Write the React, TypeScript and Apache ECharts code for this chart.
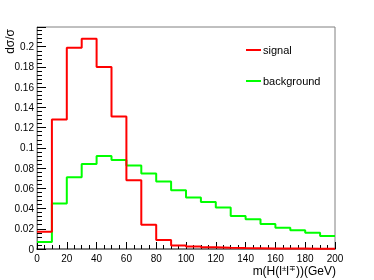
import React, { useEffect, useRef } from "react";
import * as echarts from "echarts";

const binEdges = [0, 10, 20, 30, 40, 50, 60, 70, 80, 90, 100, 110, 120, 130, 140, 150, 160, 170, 180, 190, 200];
const signal = [0.017, 0.128, 0.199, 0.208, 0.180, 0.131, 0.068, 0.024, 0.009, 0.0035, 0.0025, 0.0018, 0.0013, 0.001, 0.0008, 0.0006, 0.0005, 0.0004, 0.0003, 0.0002];
const background = [0.007, 0.045, 0.071, 0.084, 0.092, 0.088, 0.0825, 0.0746, 0.0667, 0.058, 0.0508, 0.0465, 0.041, 0.0327, 0.0294, 0.0248, 0.021, 0.0185, 0.016, 0.0129];
const seriesNames = ["signal", "background"];
const xTitle = "m(H(l{s|±}l{s|∓}))(GeV)";
const yTitle = "dσ/σ";

function stepData(vals: number[]) {
  return binEdges.map((x, i) => [x, vals[Math.min(i, vals.length - 1)]]);
}

export default function App() {
  const ref = useRef<HTMLDivElement>(null);
  useEffect(() => {
    const chart = echarts.init(ref.current!, null, { renderer: "svg" });
    const axisColor = "#808080";
    chart.setOption({
      animation: false,
      textStyle: { fontFamily: "Liberation Sans" },
      grid: { left: 37, right: 39, top: 27, bottom: 31, show: true, borderColor: axisColor, borderWidth: 1 },
      legend: {
        orient: "vertical",
        left: 246,
        top: 43,
        itemWidth: 15,
        itemHeight: 2,
        itemGap: 17,
        icon: "rect",
        padding: 0,
        textStyle: { fontSize: 11, color: "#000", lineHeight: 14, padding: [0, 0, 0, -3] },
        data: seriesNames,
      },
      xAxis: {
        type: "value",
        min: 0,
        max: 200,
        interval: 20,
        axisLine: { show: true, onZero: false, lineStyle: { color: axisColor, width: 2 } },
        axisTick: { show: true, inside: true, length: 7, lineStyle: { color: "#000" } },
        minorTick: { show: true, splitNumber: 4, length: 4, lineStyle: { color: "#000" } },
        splitLine: { show: false },
        axisLabel: { fontSize: 10, color: "#000", margin: 4 },
      },
      yAxis: {
        type: "value",
        min: 0,
        max: 0.2195,
        interval: 0.02,
        axisLine: { show: true, lineStyle: { color: axisColor, width: 1 } },
        axisTick: { show: true, inside: true, length: 9, lineStyle: { color: "#000" } },
        minorTick: { show: true, splitNumber: 5, length: 5, lineStyle: { color: "#000" } },
        splitLine: { show: false },
        axisLabel: {
          fontSize: 10,
          color: "#000",
          margin: 3,
          formatter: (v: number) => {
            const k = v / 0.02;
            if (Math.abs(k - Math.round(k)) > 1e-6) return "";
            return v === 0 ? "0" : String(+v.toFixed(2));
          },
        },
      },
      series: [
        {
          name: seriesNames[0],
          type: "line",
          step: "end",
          symbol: "none",
          color: "#ff0000",
          lineStyle: { width: 2, color: "#ff0000" },
          data: stepData(signal),
          z: 3,
        },
        {
          name: seriesNames[1],
          type: "line",
          step: "end",
          symbol: "none",
          color: "#00ff00",
          lineStyle: { width: 2, color: "#00ff00" },
          data: stepData(background),
          z: 2,
        },
      ],
      graphic: [
        {
          type: "text",
          x: 10,
          y: 29,
          rotation: Math.PI / 2,
          style: { text: yTitle, align: "right", verticalAlign: "middle", fontSize: 12, fill: "#000", fontFamily: "Liberation Sans" },
        },
        {
          type: "text",
          x: 336,
          y: 271,
          style: {
            text: xTitle,
            align: "right",
            verticalAlign: "middle",
            fontSize: 12,
            fill: "#000",
            fontFamily: "Liberation Sans",
            rich: { s: { fontSize: 8, verticalAlign: "top", padding: [0, 0, 5, 0], fill: "#000" } },
          },
        },
      ],
    });
    return () => chart.dispose();
  }, []);
  return <div ref={ref} style={{ position: "fixed", left: 0, top: 0, width: 374, height: 280 }} />;
}
